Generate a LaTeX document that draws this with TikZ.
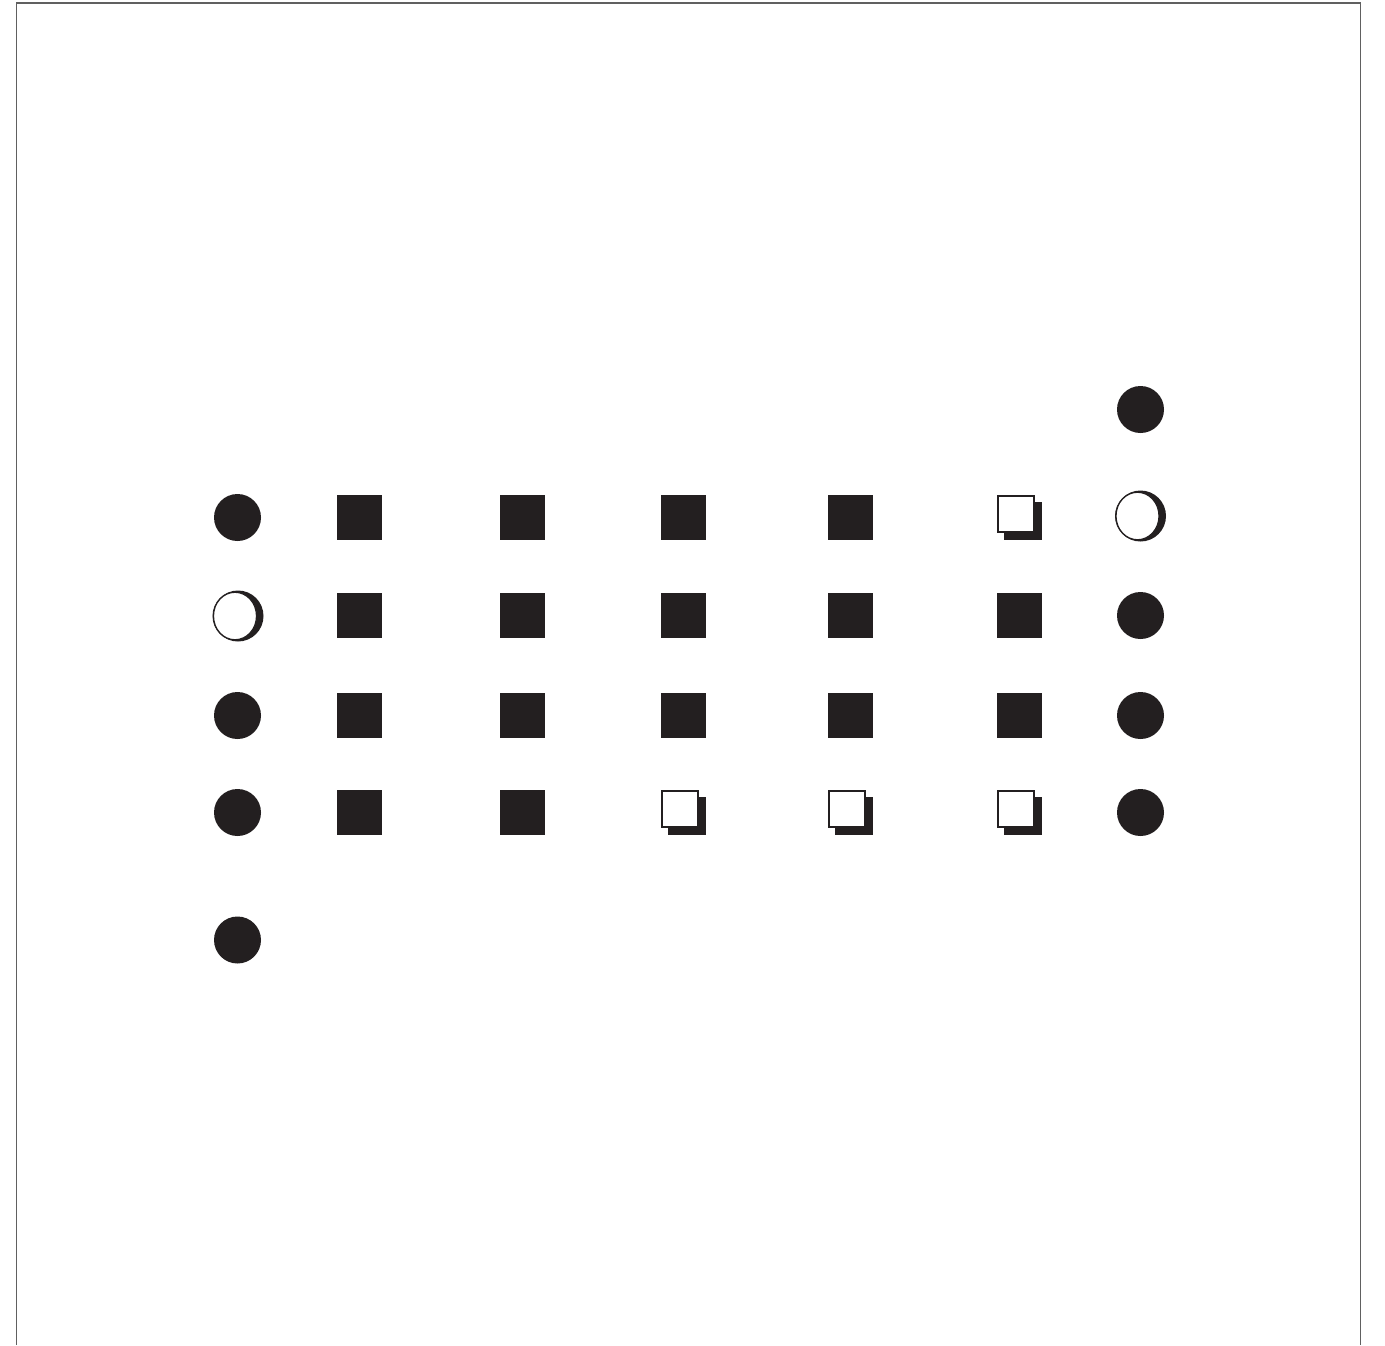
\documentclass[tikz,border=0pt]{standalone}
\usetikzlibrary{shapes.geometric}
\definecolor{ink}{HTML}{231F20}
\definecolor{frame}{HTML}{606060}
\tikzset{
  x=1pt,y=-1pt,
  dot/.style={circle,fill=ink,inner sep=0pt,minimum size=47pt},
  sq/.style={rectangle,fill=ink,inner sep=0pt,minimum size=45pt},
  sqshadow/.style={rectangle,fill=ink,inner sep=0pt,minimum size=38pt},
  sqface/.style={rectangle,fill=white,draw=ink,line width=1.8pt,inner sep=0pt,minimum size=36pt},
  ringback/.style={circle,fill=ink,inner sep=0pt,minimum size=51pt},
  ringface/.style={ellipse,fill=white,draw=ink,line width=1.2pt,inner sep=0pt,minimum width=43pt,minimum height=47.5pt},
  frameline/.style={draw=frame,line width=1.6pt}
}
\begin{document}
\begin{tikzpicture}
\useasboundingbox (0,0) rectangle (1385,1345);
% frame
\coordinate (fbl) at (16.5,1345);
\coordinate (ftl) at (16.5,3);
\coordinate (ftr) at (1360.5,3);
\coordinate (fbr) at (1360.5,1345);
\draw[frameline] (fbl) -- (ftl) -- (ftr) -- (fbr);
% left column of circles
\node[dot] (l1) at (237.5,517.5) {};
\node[ringback] (l2b) at (238,616) {};
\node[ringface] (l2) at (235,616) {};
\node[dot] (l3) at (237.5,715.5) {};
\node[dot] (l4) at (237.5,812.5) {};
\node[dot] (l5) at (237.5,940) {};
% right column of circles
\node[dot] (r0) at (1140.5,409.5) {};
\node[ringback] (r1b) at (1140.5,516) {};
\node[ringface] (r1) at (1137.5,516) {};
\node[dot] (r2) at (1140.5,615.5) {};
\node[dot] (r3) at (1140.5,715.5) {};
\node[dot] (r4) at (1140.5,812.5) {};
% squares grid
\foreach \c/\x in {1/359.5,2/522.5,3/683.5,4/850.5}{
  \node[sq] (s1\c) at (\x,517.5) {};
}
\foreach \c/\x in {1/359.5,2/522.5,3/683.5,4/850.5,5/1019.5}{
  \node[sq] (s2\c) at (\x,615.5) {};
  \node[sq] (s3\c) at (\x,715.5) {};
}
\foreach \c/\x in {1/359.5,2/522.5}{
  \node[sq] (s4\c) at (\x,812.5) {};
}
% open squares with shadows
\node[sqshadow] (s15b) at (1023,521) {};
\node[sqface] (s15) at (1016,514) {};
\foreach \c/\x in {3/683.5,4/850.5,5/1019.5}{
  \node[sqshadow] (s4\c b) at (\x+3.5,816) {};
  \node[sqface] (s4\c) at (\x-3.5,809) {};
}
\end{tikzpicture}
\end{document}
